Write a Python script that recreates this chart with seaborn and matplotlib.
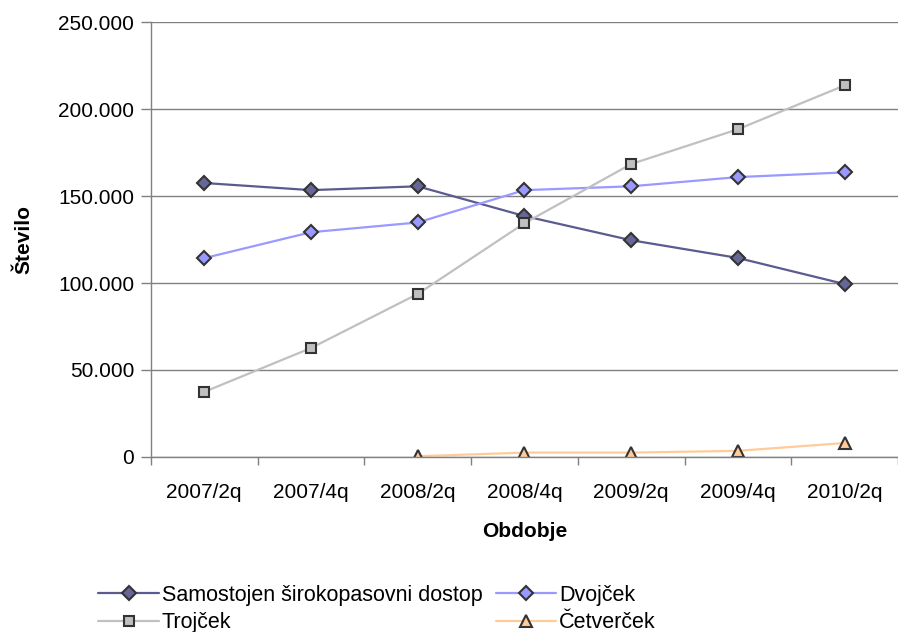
import matplotlib
matplotlib.use("Agg")
import matplotlib.pyplot as plt
import seaborn as sns
import numpy as np
import pandas as pd
from matplotlib.ticker import FuncFormatter, FixedLocator, NullFormatter

periods = ["2007/2q", "2007/4q", "2008/2q", "2008/4q", "2009/2q", "2009/4q", "2010/2q"]
samostojen = [157500, 153400, 155600, 138500, 124600, 114400, 99400]
dvojcek = [114300, 129200, 134800, 153400, 155600, 160900, 163600]
trojcek = [37400, 62600, 93700, 134400, 168400, 188400, 213600]
cetvercek = [np.nan, np.nan, 400, 2500, 2500, 3500, 8000]

series_names = ["Samostojen širokopasovni dostop", "Dvojček", "Trojček", "Četverček"]
series_values = [samostojen, dvojcek, trojcek, cetvercek]
line_colors = ["#5B5B8F", "#9999FF", "#C0C0C0", "#FFCC99"]
marker_faces = ["#666699", "#9999FF", "#C0C0C0", "#FFCC99"]
markers = ["D", "D", "s", "^"]
msizes = [7, 7, 7.5, 9]

sns.set_theme(style="white")
plt.rcParams["font.family"] = ["Liberation Sans", "DejaVu Sans"]
plt.rcParams["text.color"] = "black"
plt.rcParams["axes.labelcolor"] = "black"

fig = plt.figure(figsize=(8.98, 6.32), dpi=100)
ax = fig.add_axes([0.168, 0.277, 0.832, 0.688])

for name, vals, lc, mf, mk, ms in zip(series_names, series_values, line_colors, marker_faces, markers, msizes):
    df = pd.DataFrame({"x": np.arange(len(periods)), "y": vals}).dropna()
    sns.lineplot(data=df, x="x", y="y", ax=ax, color=lc, linewidth=1.6,
                 marker=mk, markersize=ms, markerfacecolor=mf,
                 markeredgecolor="#333333", markeredgewidth=1.5, label=name, legend=False)

ax.set_xlim(-0.5, len(periods) - 0.5)
ax.set_ylim(0, 250000)
ax.set_yticks(np.arange(0, 250001, 50000))
ax.yaxis.set_major_formatter(FuncFormatter(lambda v, p: f"{int(v):,}".replace(",", ".")))
ax.yaxis.grid(True, color="#808080", linewidth=1.0)
ax.set_axisbelow(True)

ax.xaxis.set_major_locator(FixedLocator(np.arange(-0.5, len(periods), 1.0)))
ax.xaxis.set_major_formatter(NullFormatter())
ax.xaxis.set_minor_locator(FixedLocator(np.arange(len(periods))))
ax.set_xticklabels(periods, minor=True)
ax.tick_params(axis="x", which="major", direction="out", length=6, width=1, color="#808080", bottom=True)
ax.tick_params(axis="x", which="minor", length=0, labelsize=15, pad=19, labelcolor="black")
ax.tick_params(axis="y", direction="out", length=7, width=1, color="#808080", left=True, labelsize=15, pad=5, labelcolor="black")

for s in ["top", "right"]:
    ax.spines[s].set_visible(False)
for s in ["left", "bottom"]:
    ax.spines[s].set_color("#808080")
    ax.spines[s].set_linewidth(1.0)

ax.set_xlabel("Obdobje", fontsize=15, fontweight="bold", labelpad=14)
ax.set_ylabel("Število", fontsize=15, fontweight="bold", labelpad=18)

handles, labels = ax.get_legend_handles_labels()
order = [0, 2, 1, 3]
fig.legend([handles[i] for i in order], [labels[i] for i in order], ncol=2,
           loc="upper left", bbox_to_anchor=(0.100, 0.088), frameon=False,
           fontsize=15.5, handlelength=2.8, handletextpad=0.15, columnspacing=0.6,
           labelspacing=0.3, borderaxespad=0, markerscale=1.0)

fig.savefig("out.png", dpi=100)
